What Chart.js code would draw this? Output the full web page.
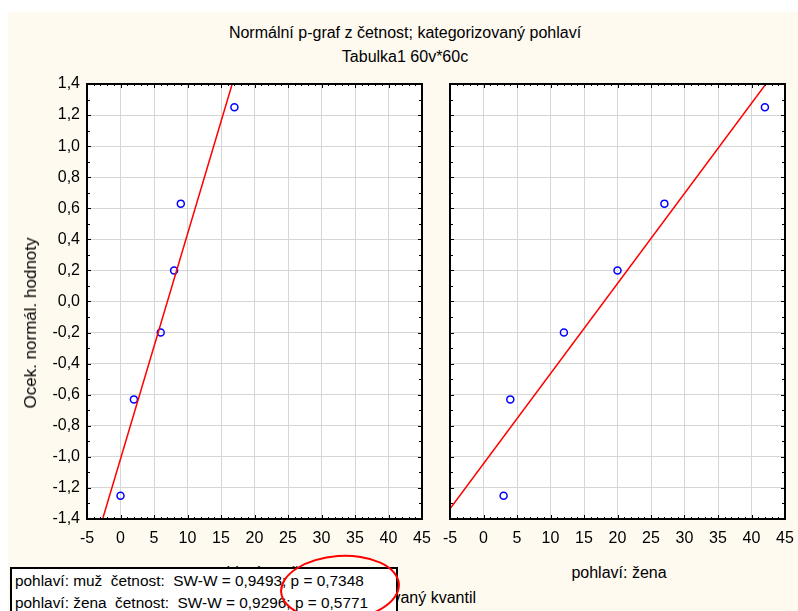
<!DOCTYPE html>
<html>
<head>
<meta charset="utf-8">
<script src="https://cdn.jsdelivr.net/npm/chart.js@4"></script>
<style>
  html, body { margin: 0; padding: 0; background: #ffffff; }
  #page { position: relative; width: 798px; height: 611px; overflow: hidden; background: #ffffff; font-family: "Liberation Sans", Arial, sans-serif; color: #000; }
  #cream { position: absolute; left: 8px; top: 12px; right: 0; bottom: 0; background: #fffaf0; }
  canvas { position: absolute; }
  .txt { position: absolute; font-size: 16px; white-space: pre; line-height: 18px; }
  #legendBox { position: absolute; left: 10px; top: 567px; width: 388px; height: 60px; background: #fff; border: 2px solid #000; box-sizing: border-box; }
  #legendBox div { position: absolute; left: 3px; font-size: 15.4px; white-space: pre; line-height: 18px; }
  #ring { position: absolute; left: 280px; top: 555px; width: 120px; height: 66px; border: 2px solid #ff0000; border-radius: 50%; box-sizing: border-box; transform: rotate(-4deg); }
</style>
</head>
<body>
<div id="page">
  <div id="cream"></div>
  <canvas id="menChart" width="440" height="480" style="left:0;top:70px"></canvas>
  <canvas id="womenChart" width="358" height="480" style="left:440px;top:70px"></canvas>

  <div class="txt" id="title" style="left:0;width:810px;text-align:center;top:24px">Normální p-graf z četnost; kategorizovaný pohlaví</div>
  <div class="txt" id="subtitle" style="left:0;width:810px;text-align:center;top:48px">Tabulka1 60v*60c</div>
  <div class="txt" id="yTitle" style="left:31px;top:323px;font-size:17px;transform:translate(-50%,-50%) rotate(-90deg)">Ocek. normál. hodnoty</div>
  <div class="txt" id="menLabel" style="left:194px;width:120px;text-align:center;top:564px">pohlaví: muž</div>
  <div class="txt" id="womenLabel" style="left:559px;width:120px;text-align:center;top:564px">pohlaví: žena</div>
  <div class="txt" id="xTitle" style="right:322px;top:589px">Pozorovaný kvantil</div>

  <div id="legendBox">
    <div id="row0" style="top:3px"></div>
    <div id="row1" style="top:25px"></div>
  </div>
  <div id="ring"></div>
</div>

<script>
// observed values (x) per group, expected normal values (y)
let menValues = [0, 2, 6, 8, 9, 17];
let womenValues = [3, 4, 12, 20, 27, 42];
let expectedNormal = [-1.25, -0.63, -0.2, 0.2, 0.63, 1.25];

// fitted line end points
let menLineX = [-2.67, 16.67];
let menLineY = [-1.4, 1.4];
let womenLineX = [-5, 42.14];
let womenLineY = [-1.334, 1.4];

let xRange = [-5, 45];
let yRange = [-1.4, 1.4];

let legendRows = [
  'pohlaví: muž  četnost:  SW-W = 0,9493; p = 0,7348',
  'pohlaví: žena  četnost:  SW-W = 0,9296; p = 0,5771',
];

document.getElementById('row0').textContent = legendRows[0];
document.getElementById('row1').textContent = legendRows[1];

let font = { family: '"Liberation Sans", Arial, sans-serif', size: 16 };

// white plot area, black frame and small inward ticks like Statistica
let framePlugin = {
  id: 'frame',
  beforeDraw: (chart) => {
    let { ctx, chartArea: a } = chart;
    ctx.save();
    ctx.fillStyle = '#ffffff';
    ctx.fillRect(a.left, a.top, a.right - a.left, a.bottom - a.top);
    ctx.restore();
  },
  afterDatasetsDraw: (chart) => {
    let { ctx, chartArea: a, scales } = chart;
    ctx.save();
    ctx.strokeStyle = '#000000';
    ctx.lineWidth = 1;
    ctx.beginPath();
    for (let i = 0; i <= 28; i++) {
      let v = yRange[0] + i * 0.1;
      let py = Math.round(scales.y.getPixelForValue(v)) + 0.5;
      let len = i % 2 === 0 ? 4 : 3;
      ctx.moveTo(a.left, py);
      ctx.lineTo(a.left + len, py);
      ctx.moveTo(a.right, py);
      ctx.lineTo(a.right - len, py);
    }
    for (let v = xRange[0]; v <= xRange[1]; v++) {
      let px = Math.round(scales.x.getPixelForValue(v)) + 0.5;
      let len = v % 5 === 0 ? 4 : 2;
      ctx.moveTo(px, a.top);
      ctx.lineTo(px, a.top + len);
      ctx.moveTo(px, a.bottom);
      ctx.lineTo(px, a.bottom - len);
    }
    ctx.stroke();
    ctx.lineWidth = 2;
    ctx.strokeRect(a.left, a.top, a.right - a.left, a.bottom - a.top);
    ctx.restore();
  },
};

let makeChart = (id, values, lineX, lineY, showYLabels, yWidth, padRight) => {
  let ctx = document.getElementById(id).getContext('2d');

  let points = values.map((v, i) => ({ x: v, y: expectedNormal[i] }));
  let line = lineX.map((v, i) => ({ x: v, y: lineY[i] }));

  return new Chart(ctx, {
    type: 'scatter',
    data: {
      datasets: [
        {
          type: 'line',
          data: line,
          borderColor: '#ff0000',
          borderWidth: 1.5,
          pointRadius: 0,
          fill: false,
        },
        {
          data: points,
          pointStyle: 'circle',
          pointRadius: 3.5,
          borderWidth: 1.5,
          borderColor: '#0000ff',
          backgroundColor: 'rgba(0,0,0,0)',
        },
      ],
    },
    options: {
      responsive: false,
      animation: false,
      devicePixelRatio: 1,
      layout: { padding: { left: 0, right: padRight, top: 14, bottom: 0 } },
      plugins: {
        legend: { display: false },
        tooltip: { enabled: false },
      },
      scales: {
        x: {
          type: 'linear',
          min: xRange[0],
          max: xRange[1],
          ticks: { stepSize: 5, color: '#000', font: font, padding: 10, maxRotation: 0 },
          grid: { color: '#d6d6d6', drawTicks: false },
          border: { display: false },
          afterFit: (scale) => {
            scale.height = 31;
            scale.paddingLeft = 0;
            scale.paddingRight = 0;
          },
        },
        y: {
          type: 'linear',
          min: yRange[0],
          max: yRange[1],
          ticks: {
            stepSize: 0.2,
            display: showYLabels,
            color: '#000',
            font: font,
            padding: 7,
            callback: (v) => v.toFixed(1).replace('-0.0', '0.0').replace('.', ','),
          },
          grid: { color: '#d6d6d6', drawTicks: false },
          border: { display: false },
          afterFit: (scale) => {
            scale.width = yWidth;
            scale.paddingTop = 0;
            scale.paddingBottom = 0;
          },
        },
      },
    },
    plugins: [framePlugin],
  });
};

makeChart('menChart', menValues, menLineX, menLineY, true, 87, 18);
makeChart('womenChart', womenValues, womenLineX, womenLineY, false, 10, 13);
</script>
</body>
</html>
